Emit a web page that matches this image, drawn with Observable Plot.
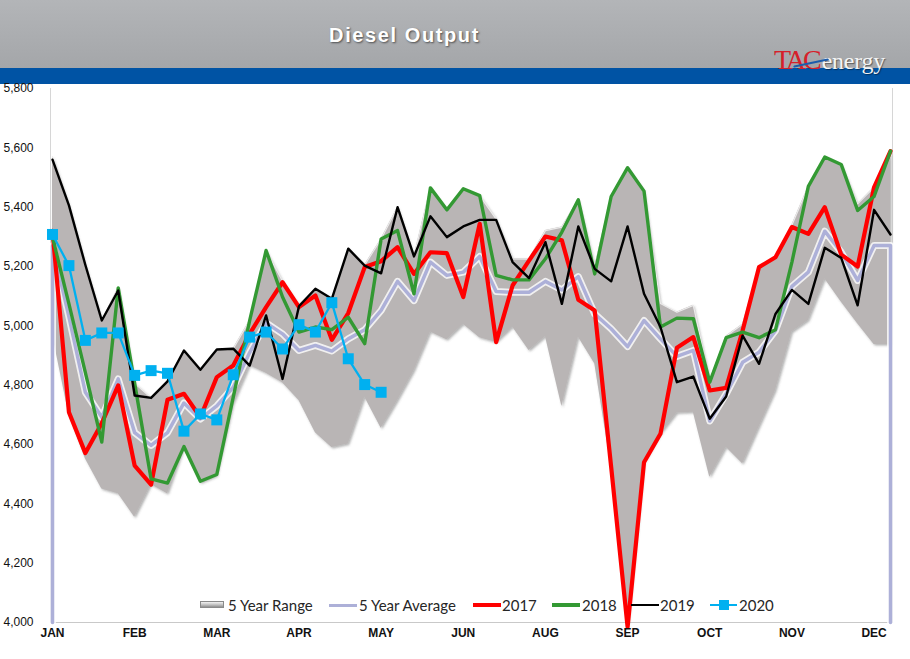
<!DOCTYPE html>
<html>
<head>
<meta charset="utf-8">
<script src="https://cdn.jsdelivr.net/npm/d3@7"></script>
<script src="https://cdn.jsdelivr.net/npm/@observablehq/plot@0.6"></script>
<style>
  body { margin: 0; background: #fff; }
  #wrap { position: relative; width: 910px; height: 659px; overflow: hidden; background: #fff; }
  #chart { position: absolute; left: 0; top: 0; z-index: 3; }
  #hdr { position: absolute; left: 0; top: 0; width: 910px; height: 68px; background: linear-gradient(#b3b5b8, #a4a6a9); z-index: 1; }
  #band { position: absolute; left: 0; top: 68px; width: 910px; height: 16px; background: #0053a4; z-index: 1; }
  #title { position: absolute; left: 0; width: 809px; top: 24px; text-align: center; font: bold 20px "Liberation Sans", Arial, sans-serif; color: #fff; letter-spacing: 1.6px; text-shadow: 1px 1px 2px rgba(0,0,0,0.55); z-index: 4; }
  #logo { position: absolute; left: 774px; top: 44px; height: 30px; z-index: 5; white-space: nowrap; }
  #logo .r { font: 28px "Liberation Serif", "Times New Roman", serif; color: #d6202a; letter-spacing: -3px; }
  #logo .e { font: 24px "Liberation Serif", "Times New Roman", serif; color: #f4f4f4; text-shadow: 1px 1px 1px rgba(0,0,0,0.45); margin-left: 3px; letter-spacing: -0.3px; }
  #swoosh { position: absolute; left: 793px; top: 62px; width: 36px; height: 2px; background: #1c5cab; transform: rotate(-12deg); z-index: 6; border-radius: 1px; }
  #legend { position: absolute; left: 0; top: 0; z-index: 7; }
  .lg { position: absolute; top: 596px; font: 15px Lato, "Open Sans", sans-serif; color: #262626; line-height: 18px; white-space: nowrap; }
</style>
</head>
<body>
<div id="wrap">
  <div id="hdr"></div>
  <div id="band"></div>
  <div id="chart"></div>
  <div id="title">Diesel Output</div>
  <div id="logo"><span class="r">TAC</span><span class="e">energy</span></div>
  <div id="swoosh"></div>
  <div id="legend"></div>
</div>
<script>
// ---- data (thousand barrels/day, weekly) ----
const weeks = d3.range(52);
const monthTicks = [0, 5, 10, 15, 20, 25, 30, 35, 40, 45, 50];
const monthLabels = ["JAN", "FEB", "MAR", "APR", "MAY", "JUN", "AUG", "SEP", "OCT", "NOV", "DEC"];
const yTicks = [4000, 4200, 4400, 4600, 4800, 5000, 5200, 5400, 5600, 5800];
const yDomain = [4000, 5800];

const rangeMin = [4970, 4700, 4552, 4450, 4434, 4355, 4465, 4434, 4590, 4470,
                  4495, 4737, 4866, 4840, 4808, 4748, 4640, 4590, 4602, 4760,
                  4655, 4748, 4849, 4979, 4953, 5005, 4960, 4945, 4996, 4917,
                  4964, 4728, 4962, 4872, 4524, 3985, 4540, 4636, 4706, 4709,
                  4490, 4591, 4535, 4659, 4782, 4979, 5018, 5159, 5080, 5007,
                  4937, 4937];
const rangeMax = [5570, 5406, 5205, 5018, 5128, 4806, 4757, 4813, 4917, 4852,
                  4920, 4923, 5018, 5254, 5150, 5070, 5125, 5091, 5260, 5205,
                  5293, 5400, 5234, 5465, 5391, 5462, 5439, 5360, 5226, 5225,
                  5321, 5333, 5425, 5200, 5436, 5533, 5454, 5075, 5046, 5069,
                  4815, 4966, 5005, 5198, 5231, 5340, 5470, 5569, 5544, 5411,
                  5467, 5589];
const avg5 = [5270, 5030, 4776, 4692, 4821, 4640, 4597, 4640, 4740, 4686,
              4730, 4793, 4910, 5010, 4973, 4917, 4934, 4915, 4956, 4987,
              5052, 5150, 5085, 5215, 5170, 5181, 5234, 5116, 5113, 5113,
              5150, 5121, 5166, 5040, 4990, 4930, 5018, 4956, 4897, 4917,
              4679, 4771, 4877, 4911, 4984, 5133, 5181, 5319, 5248, 5153,
              5271, 5271];
const y2017 = [5320, 4709, 4571, 4672, 4799, 4529, 4465, 4751, 4771, 4692,
               4827, 4866, 4973, 5063, 5147, 5063, 5102, 4953, 5043, 5198,
               5218, 5265, 5175, 5248, 5245, 5097, 5344, 4945, 5136, 5220,
               5301, 5288, 5088, 5052, 4524, 3985, 4540, 4636, 4926, 4962,
               4782, 4791, 4984, 5198, 5231, 5333, 5310, 5400, 5240, 5200,
               5467, 5589];
const y2018 = [5299, 5074, 4842, 4608, 5128, 4806, 4484, 4470, 4593, 4476,
               4499, 4760, 5018, 5254, 5097, 4979, 4996, 4987, 5029, 4940,
               5293, 5321, 5108, 5465, 5391, 5462, 5439, 5170, 5155, 5155,
               5226, 5316, 5425, 5175, 5436, 5533, 5454, 4996, 5026, 5024,
               4810, 4960, 4979, 4960, 4987, 5215, 5470, 5569, 5544, 5389,
               5436, 5589];
const y2019 = [5560, 5406, 5205, 5018, 5119, 4765, 4757, 4813, 4917, 4852,
               4920, 4923, 4866, 5035, 4821, 5066, 5125, 5091, 5260, 5203,
               5177, 5400, 5234, 5369, 5299, 5335, 5357, 5357, 5215, 5161,
               5282, 5074, 5335, 5192, 5150, 5335, 5108, 4996, 4810, 4829,
               4687, 4762, 4967, 4872, 5040, 5121, 5074, 5263, 5229, 5069,
               5391, 5308];
const y2020 = [5308, 5203, 4951, 4976, 4976, 4833, 4849, 4840, 4645, 4703,
               4683, 4835, 4962, 4979, 4922, 5004, 4979, 5078, 4889, 4802,
               4776];

// ---- colours ----
const C = { range: "#b9b5b5", avg: "#adb0d8", y2017: "#ff0000", y2018: "#339933", y2019: "#000000", y2020: "#00b0f0" };

const rows = weeks.map((w, i) => ({ w, lo: rangeMin[i], hi: rangeMax[i], avg: avg5[i], v17: y2017[i], v18: y2018[i], v19: y2019[i] }));
const rows20 = y2020.map((v, i) => ({ w: weeks[i], v }));
const avgPath = [{ w: weeks[0], v: yDomain[0] }, ...rows.map(r => ({ w: r.w, v: r.avg })), { w: weeks[weeks.length - 1], v: yDomain[0] }];

const plot = Plot.plot({
  width: 910,
  height: 659,
  marginTop: 88,
  marginBottom: 37,
  marginLeft: 50,
  marginRight: 18,
  style: { background: "transparent", fontFamily: "'Liberation Sans', Arial, sans-serif" },
  x: { domain: [weeks[0], weeks[weeks.length - 1]], range: [52, 890] },
  y: { domain: yDomain },
  marks: [
    Plot.frame({ anchor: "bottom", stroke: "#c9c9c9", strokeWidth: 1.2 }),
    Plot.frame({ anchor: "right", stroke: "#d6d6d6", strokeWidth: 1 }),
    Plot.frame({ anchor: "left", stroke: "#d6d6d6", strokeWidth: 1 }),
    Plot.areaY(rows, { x: "w", y1: "lo", y2: "hi", fill: C.range }),
    Plot.line(rows, { x: "w", y: "hi", stroke: "#ecebeb", strokeWidth: 1.2 }),
    Plot.line(avgPath, { x: "w", y: "v", stroke: "#ffffff", strokeWidth: 7, strokeOpacity: 0.8 }),
    Plot.line(avgPath, { x: "w", y: "v", stroke: C.avg, strokeWidth: 3.5 }),
    Plot.line(rows, { x: "w", y: "v17", stroke: C.y2017, strokeWidth: 4.2 }),
    Plot.line(rows, { x: "w", y: "v18", stroke: C.y2018, strokeWidth: 3.4 }),
    Plot.line(rows, { x: "w", y: "v19", stroke: C.y2019, strokeWidth: 2.4 }),
    Plot.line(rows20, { x: "w", y: "v", stroke: C.y2020, strokeWidth: 2.3 }),
    Plot.dot(rows20, { x: "w", y: "v", symbol: "square", r: 6.2, fill: C.y2020, stroke: "none" }),
    Plot.axisY(yTicks, { label: null, tickSize: 0, tickPadding: 17, tickFormat: d3.format(","), fontSize: 12, fill: "#111" }),
    Plot.axisX(monthTicks, { label: null, tickSize: 0, tickPadding: 6, tickFormat: d => monthLabels[monthTicks.indexOf(d)], fontSize: 12, fontWeight: "bold", fill: "#111" })
  ]
});

// subtle drop shadow on the range area
const svg = d3.select(plot);
const defs = svg.insert("defs", ":first-child");
const f = defs.append("filter").attr("id", "sh").attr("x", "-5%").attr("y", "-5%").attr("width", "110%").attr("height", "110%");
f.append("feDropShadow").attr("dx", 1.5).attr("dy", 1.5).attr("stdDeviation", 1.2).attr("flood-color", "#555").attr("flood-opacity", 0.45);
svg.selectAll('g[aria-label="area"]').filter((d, i) => i === 0).attr("filter", "url(#sh)");

document.getElementById("chart").appendChild(plot);

// ---- legend ----
const legendItems = [
  { label: "5 Year Range", kind: "range", x0: 200, x1: 224, tx: 228 },
  { label: "5 Year Average", kind: "line", color: C.avg, w: 3, x0: 329, x1: 357, tx: 359 },
  { label: "2017", kind: "line", color: C.y2017, w: 4, x0: 473, x1: 501, tx: 502 },
  { label: "2018", kind: "line", color: C.y2018, w: 3.4, x0: 552, x1: 580, tx: 582 },
  { label: "2019", kind: "line", color: C.y2019, w: 2.4, x0: 631, x1: 659, tx: 660 },
  { label: "2020", kind: "marker", color: C.y2020, w: 2.3, x0: 710, x1: 737, tx: 739 }
];
const lg = document.getElementById("legend");
legendItems.forEach(it => {
  if (it.kind === "range") {
    const s = document.createElement("div");
    s.style.cssText = `position:absolute;left:${it.x0}px;top:601px;width:${it.x1 - it.x0}px;height:7px;background:linear-gradient(#f2f2f2,#bdbdbd 60%,#8f8f8f);border:1px solid #8a8a8a;box-sizing:border-box;`;
    lg.appendChild(s);
  } else {
    const s = document.createElement("div");
    s.style.cssText = `position:absolute;left:${it.x0}px;top:${605 - it.w / 2}px;width:${it.x1 - it.x0}px;height:${it.w}px;background:${it.color};`;
    lg.appendChild(s);
    if (it.kind === "marker") {
      const m = document.createElement("div");
      const cx = (it.x0 + it.x1) / 2;
      m.style.cssText = `position:absolute;left:${cx - 5}px;top:600px;width:10px;height:10px;background:${it.color};`;
      lg.appendChild(m);
    }
  }
  const t = document.createElement("div");
  t.className = "lg";
  t.style.left = it.tx + "px";
  t.textContent = it.label;
  lg.appendChild(t);
});
</script>
</body>
</html>
